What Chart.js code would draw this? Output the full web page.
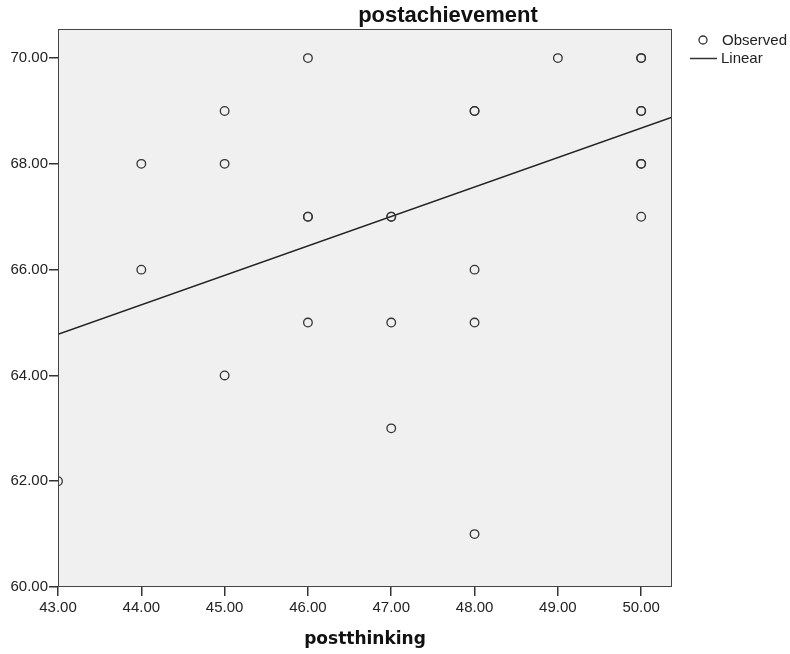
<!DOCTYPE html>
<html>
<head>
<meta charset="utf-8">
<script src="https://cdn.jsdelivr.net/npm/chart.js@4/dist/chart.umd.min.js"></script>
<style>
  html, body { margin: 0; padding: 0; background: #fff; }
  #wrap { width: 790px; height: 654px; }
</style>
</head>
<body>
<div id="wrap"><canvas id="scatter"></canvas></div>
<script>
// observed points (repeated entries are overlapping cases)
const postThinking = [43, 44, 44, 45, 45, 45, 46, 46, 46, 46, 47, 47, 47, 47, 48, 48, 48, 48, 48, 49, 50, 50, 50, 50, 50, 50, 50];
const postAchievement = [62, 68, 66, 69, 68, 64, 70, 67, 67, 65, 67, 67, 65, 63, 69, 69, 66, 65, 61, 70, 70, 70, 69, 69, 68, 68, 67];

// fitted linear line, read at the two ends of the plot
const fitX = [43, 50.37];
const fitY = [64.78, 68.88];

const xTicks = [43, 44, 45, 46, 47, 48, 49, 50];
const yTicks = [60, 62, 64, 66, 68, 70];

const font = 'Arial, "Liberation Sans", sans-serif';

const plotBox = {
    id: 'plotBox',
    beforeDatasetsDraw(chart) {
        const a = chart.chartArea, c = chart.ctx;
        c.save();
        c.fillStyle = '#f0f0f0';
        c.fillRect(a.left, a.top, a.right - a.left, a.bottom - a.top);
        c.restore();
    },
    afterDraw(chart) {
        const a = chart.chartArea, c = chart.ctx;
        c.save();
        c.strokeStyle = '#444';
        c.lineWidth = 1;
        c.strokeRect(a.left + 0.5, a.top + 0.5, a.right - a.left - 1, a.bottom - a.top - 1);
        // title, over the right half like the original
        c.fillStyle = '#111';
        c.font = 'bold 22px ' + font;
        c.textAlign = 'center';
        c.textBaseline = 'alphabetic';
        c.fillText('postachievement', 448, 22);
        // legend
        c.textAlign = 'left';
        c.strokeStyle = '#333';
        c.lineWidth = 1.3;
        c.beginPath();
        c.arc(703, 40, 4, 0, Math.PI * 2);
        c.stroke();
        c.lineWidth = 1.5;
        c.beginPath();
        c.moveTo(690, 58.5);
        c.lineTo(717, 58.5);
        c.stroke();
        c.fillStyle = '#222';
        c.font = '15px ' + font;
        c.textBaseline = 'middle';
        c.fillText('Observed', 722, 41);
        c.fillText('Linear', 721, 59);
        c.restore();
    }
};

new Chart(document.getElementById('scatter'), {
    type: 'scatter',
    data: {
        datasets: [{
            label: 'Observed',
            data: postThinking.map((x, i) => ({ x: x, y: postAchievement[i] })),
            pointRadius: 4.3,
            pointBorderWidth: 1.3,
            pointBorderColor: '#333',
            pointBackgroundColor: 'rgba(0,0,0,0)',
            pointHoverRadius: 4.3
        }, {
            label: 'Linear',
            type: 'line',
            data: fitX.map((x, i) => ({ x: x, y: fitY[i] })),
            borderColor: '#222',
            borderWidth: 1.5,
            pointRadius: 0,
            fill: false
        }]
    },
    options: {
        responsive: true,
        maintainAspectRatio: false,
        animation: false,
        layout: { padding: { top: 29, right: 118, left: 0, bottom: 0 } },
        plugins: {
            legend: { display: false },
            tooltip: { enabled: false }
        },
        scales: {
            x: {
                type: 'linear',
                min: 43,
                max: 50.37,
                afterBuildTicks: s => { s.ticks = xTicks.map(v => ({ value: v })); },
                afterFit: s => { s.height = 67; },
                border: { display: false },
                grid: { drawOnChartArea: false, drawTicks: true, tickLength: 9, color: '#333', lineWidth: 1.5 },
                ticks: {
                    padding: 3,
                    color: '#222',
                    font: { family: font, size: 15 },
                    callback: v => v.toFixed(2)
                },
                title: {
                    display: true,
                    text: 'postthinking',
                    color: '#111',
                    font: { family: '"DejaVu Sans", Verdana, sans-serif', size: 17, weight: 'bold' },
                    padding: { top: 10, bottom: 4 }
                }
            },
            y: {
                type: 'linear',
                min: 60,
                max: 70.55,
                afterBuildTicks: s => { s.ticks = yTicks.map(v => ({ value: v })); },
                afterFit: s => { s.width = 58; },
                border: { display: false },
                grid: { drawOnChartArea: false, drawTicks: true, tickLength: 9, color: '#333', lineWidth: 1.5 },
                ticks: {
                    padding: 1,
                    color: '#222',
                    font: { family: font, size: 15 },
                    callback: v => v.toFixed(2)
                }
            }
        }
    },
    plugins: [plotBox]
});
</script>
</body>
</html>
